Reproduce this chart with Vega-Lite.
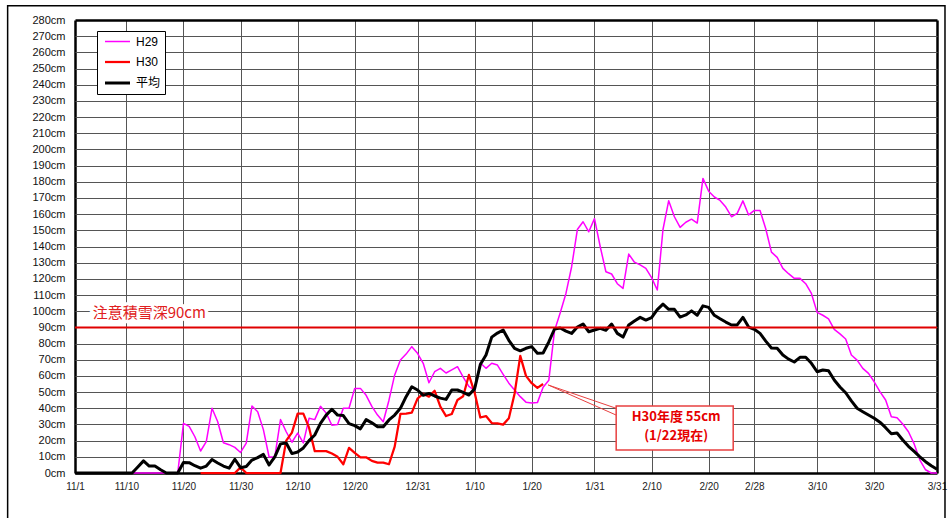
{
  "$schema": "https://vega.github.io/schema/vega-lite/v6.json",
  "width": 862,
  "height": 453,
  "autosize": "none",
  "padding": {"left": 75, "top": 20, "right": 13, "bottom": 45},
  "background": "white",
  "config": {
    "view": {"stroke": null},
    "font": "Liberation Sans",
    "axis": {"domain": false, "ticks": false, "title": null, "labelOverlap": false}
  },
  "layer": [
    {
      "data": {"values": [
        {"i":0,"H29":0,"平均":0},{"i":1,"H29":0,"平均":0},{"i":2,"H29":0,"平均":0},{"i":3,"H29":0,"平均":0},{"i":4,"H29":0,"平均":0},
        {"i":5,"H29":0,"平均":0},{"i":6,"H29":0,"平均":0},{"i":7,"H29":0,"平均":0},{"i":8,"H29":0,"平均":0},{"i":9,"H29":0,"平均":0},
        {"i":10,"H29":0,"平均":0},{"i":11,"H29":0,"平均":3.7},{"i":12,"H29":0,"平均":7.5},{"i":13,"H29":0,"平均":4.3},{"i":14,"H29":0,"平均":4.3},
        {"i":15,"H29":0,"平均":2},{"i":16,"H29":0,"平均":0},{"i":17,"H29":0,"平均":0},{"i":18,"H29":0,"平均":0},{"i":19,"H29":30.7,"平均":6.5},
        {"i":20,"H29":28.8,"平均":6.4},{"i":21,"H29":22.4,"平均":4.5},{"i":22,"H29":13.6,"H30":0,"平均":3},{"i":23,"H29":19.4,"H30":0,"平均":4.3},{"i":24,"H29":40,"H30":0,"平均":8.3},
        {"i":25,"H29":31.7,"H30":0,"平均":6.2},{"i":26,"H29":18.7,"H30":0,"平均":4.3},{"i":27,"H29":17.5,"H30":0,"平均":3},{"i":28,"H29":15.8,"H30":0,"平均":8.5},{"i":29,"H29":12.7,"H30":3.5,"平均":3.3},
        {"i":30,"H29":18.5,"H30":0,"平均":4},{"i":31,"H29":41.4,"H30":0,"平均":8},{"i":32,"H29":37.9,"H30":0,"平均":9.5},{"i":33,"H29":26.8,"H30":0,"平均":11.5},{"i":34,"H29":9.9,"H30":0,"平均":5},
        {"i":35,"H29":9.9,"H30":0,"平均":10},{"i":36,"H29":33,"H30":0,"平均":18},{"i":37,"H29":25.5,"H30":20,"平均":18.5},{"i":38,"H29":19,"H30":25,"平均":12},{"i":39,"H29":24.7,"H30":36.7,"平均":13},
        {"i":40,"H29":18.6,"H30":36.7,"平均":15.5},{"i":41,"H29":33.8,"H30":28,"平均":20},{"i":42,"H29":33,"H30":13.5,"平均":23.5},{"i":43,"H29":41.2,"H30":13.5,"平均":30.7},{"i":44,"H29":37,"H30":13.5,"平均":35.8},
        {"i":45,"H29":29.5,"H30":12,"平均":39.4},{"i":46,"H29":30,"H30":10,"平均":35.8},{"i":47,"H29":40,"H30":5.4,"平均":35.5},{"i":48,"H29":40,"H30":15.5,"平均":30.5},{"i":49,"H29":52.3,"H30":12.4,"平均":29.3},
        {"i":50,"H29":52.3,"H30":9.7,"平均":27.3},{"i":51,"H29":48,"H30":9.7,"平均":33},{"i":52,"H29":41.2,"H30":7.5,"平均":31},{"i":53,"H29":35.8,"H30":6.4,"平均":28.6},{"i":54,"H29":31.7,"H30":6.4,"平均":28.6},
        {"i":55,"H29":45,"H30":5.4,"平均":32.8},{"i":56,"H29":60.6,"H30":16.3,"平均":35.8},{"i":57,"H29":69.8,"H30":36.5,"平均":40},{"i":58,"H29":73.5,"H30":36.7,"平均":47.2},{"i":59,"H29":78.1,"H30":37.3,"平均":53.3},
        {"i":60,"H29":74,"H30":46,"平均":51.3},{"i":61,"H29":67.8,"H30":49,"平均":48},{"i":62,"H29":55.8,"H30":47.2,"平均":49.2},{"i":63,"H29":62.6,"H30":50.8,"平均":47.6},{"i":64,"H29":64.7,"H30":41,"平均":46.3},
        {"i":65,"H29":61.8,"H30":35.2,"平均":45.5},{"i":66,"H29":63.7,"H30":36.5,"平均":51.3},{"i":67,"H29":65.7,"H30":45.1,"平均":51.3},{"i":68,"H29":59.3,"H30":47.4,"平均":49.8},{"i":69,"H29":53.5,"H30":60.6,"平均":48.2},
        {"i":70,"H29":51,"H30":49.7,"平均":52},{"i":71,"H29":68,"H30":34.3,"平均":67},{"i":72,"H29":64.7,"H30":35.2,"平均":72.9},{"i":73,"H29":67.8,"H30":30.9,"平均":84},{"i":74,"H29":66.7,"H30":30.7,"平均":86.5},
        {"i":75,"H29":61,"H30":29.9,"平均":88.4},{"i":76,"H29":55.5,"H30":33.8,"平均":82},{"i":77,"H29":51.3,"H30":49,"平均":77},{"i":78,"H29":47.2,"H30":72.4,"平均":75.5},{"i":79,"H29":43.8,"H30":60,"平均":77.1},
        {"i":80,"H29":43.3,"H30":55.5,"平均":78.1},{"i":81,"H29":43.5,"H30":52.6,"平均":74},{"i":82,"H29":53,"H30":55,"平均":74.2},{"i":83,"H29":57.3,"平均":81},{"i":84,"H29":88,"平均":89},
        {"i":85,"H29":99,"平均":89.6},{"i":86,"H29":111,"平均":87.7},{"i":87,"H29":127.5,"平均":86.3},{"i":88,"H29":150.5,"平均":90.2},{"i":89,"H29":155.3,"平均":92.1},
        {"i":90,"H29":149.1,"平均":87.3},{"i":91,"H29":157.2,"平均":88.4},{"i":92,"H29":140,"平均":89.4},{"i":93,"H29":124.4,"平均":88.2},{"i":94,"H29":123,"平均":92.1},
        {"i":95,"H29":117,"平均":86.3},{"i":96,"H29":114.1,"平均":84},{"i":97,"H29":135.3,"平均":91.5},{"i":98,"H29":130.3,"平均":94},{"i":99,"H29":128.6,"平均":96.2},
        {"i":100,"H29":126.5,"平均":94.5},{"i":101,"H29":120.8,"平均":96},{"i":102,"H29":113.1,"平均":101},{"i":103,"H29":150.5,"平均":104.4},{"i":104,"H29":168.3,"平均":101.2},
        {"i":105,"H29":158.4,"平均":101.2},{"i":106,"H29":151.8,"平均":96.4},{"i":107,"H29":155,"平均":97.7},{"i":108,"H29":156.9,"平均":100.2},{"i":109,"H29":154.5,"平均":97.5},
        {"i":110,"H29":182.1,"平均":103.3},{"i":111,"H29":174.2,"平均":102.4},{"i":112,"H29":170.6,"平均":97.5},{"i":113,"H29":168.5,"平均":95.3},{"i":114,"H29":164.4,"平均":93.3},
        {"i":115,"H29":158.4,"平均":91.5},{"i":116,"H29":160.5,"平均":91.5},{"i":117,"H29":168.2,"平均":96.2},{"i":118,"H29":159.5,"平均":90.2},{"i":119,"H29":162.3,"平均":88.8},
        {"i":120,"H29":162.3,"平均":86.3},{"i":121,"H29":151,"平均":81.5},{"i":122,"H29":136.5,"平均":77.3},{"i":123,"H29":133.3,"平均":77.1},{"i":124,"H29":126.5,"平均":72.9},
        {"i":125,"H29":123.2,"平均":70.4},{"i":126,"H29":120.3,"平均":68.6},{"i":127,"H29":120.3,"平均":71.5},{"i":128,"H29":117,"平均":71.5},{"i":129,"H29":111,"平均":67.8},
        {"i":130,"H29":99.3,"平均":62.6},{"i":131,"H29":97.5,"平均":63.7},{"i":132,"H29":95.3,"平均":63.2},{"i":133,"H29":88.8,"平均":57.5},{"i":134,"H29":86,"平均":53.2},
        {"i":135,"H29":82.8,"平均":49.6},{"i":136,"H29":72.9,"平均":44.6},{"i":137,"H29":69.8,"平均":40},{"i":138,"H29":64.7,"平均":37.9},{"i":139,"H29":61.6,"平均":35.8},
        {"i":140,"H29":56.4,"平均":33.8},{"i":141,"H29":50.3,"平均":31.4},{"i":142,"H29":45.1,"平均":28},{"i":143,"H29":34.8,"平均":24.3},{"i":144,"H29":34.2,"平均":24.7},
        {"i":145,"H29":30.3,"平均":20.4},{"i":146,"H29":25.5,"平均":16.5},{"i":147,"H29":18,"平均":13.3},{"i":148,"H29":8,"平均":10},{"i":149,"H29":2,"平均":7},
        {"i":150,"H29":0,"平均":4.5},{"i":151,"H29":0,"平均":2.3}
      ]},
      "transform": [
        {"fold": ["H29", "H30", "平均"], "as": ["series", "cm"]},
        {"filter": "isValid(datum.cm)"}
      ],
      "encoding": {
        "x": {
          "field": "i", "type": "quantitative",
          "scale": {"domain": [0, 151], "nice": false, "zero": false},
          "axis": {
            "values": [0, 9, 19, 29, 39, 49, 60, 70, 80, 91, 101, 111, 119, 130, 140, 151],
            "tickCount": 40,
            "labelExpr": "['11/1','11/10','11/20','11/30','12/10','12/20','12/31','1/10','1/20','1/31','2/10','2/20','2/28','3/10','3/20','3/31'][indexof([0,9,19,29,39,49,60,70,80,91,101,111,119,130,140,151], datum.value)]",
            "labelFontSize": 10, "labelColor": "#222", "labelPadding": 8,
            "gridColor": {"condition": {"test": "datum.value === 0 || datum.value === 151", "value": "#000"}, "value": "#555"},
            "gridWidth": {"condition": {"test": "datum.value === 0 || datum.value === 151", "value": 2.5}, "value": 1},
            "labelFlush": false
          }
        },
        "y": {
          "field": "cm", "type": "quantitative",
          "scale": {"domain": [0, 280], "nice": false},
          "axis": {
            "values": [0,10,20,30,40,50,60,70,80,90,100,110,120,130,140,150,160,170,180,190,200,210,220,230,240,250,260,270,280],
            "tickCount": 40,
            "labelExpr": "datum.value + 'cm'",
            "labelFontSize": 11, "labelColor": "#111", "labelPadding": 10,
            "gridColor": {"condition": {"test": "datum.value === 0 || datum.value === 280", "value": "#000"}, "value": "#555"},
            "gridWidth": {"condition": {"test": "datum.value === 0 || datum.value === 280", "value": 2.5}, "value": 1}
          }
        },
        "color": {
          "field": "series", "type": "nominal",
          "scale": {"domain": ["H29", "H30", "平均"], "range": ["#ff00ff", "#ff0000", "#000000"]},
          "legend": {
            "orient": "none", "legendX": 22, "legendY": 11, "title": null,
            "strokeColor": "#000", "fillColor": "#fff", "padding": 4.5,
            "symbolType": "M-2.5,0H2.5", "symbolSize": 100, "symbolOffset": 9.5, "rowPadding": 8,
            "labelFontSize": 12, "labelFont": "Liberation Sans, Noto Sans CJK JP", "labelColor": "#000", "labelOffset": 12
          }
        },
        "strokeWidth": {
          "field": "series", "type": "nominal",
          "scale": {"domain": ["H29", "H30", "平均"], "range": [1.5, 3, 3]}
        }
      },
      "layer": [
        {"transform": [{"filter": "datum.series === 'H29'"}], "mark": {"type": "line", "strokeJoin": "round"}},
        {"transform": [{"filter": "datum.series === 'H30'"}], "mark": {"type": "line", "strokeJoin": "round"}},
        {"transform": [{"filter": "datum.series === '平均'"}], "mark": {"type": "line", "strokeJoin": "round"}}
      ]
    },
    {
      "data": {"values": [{}]},
      "layer": [
        {
          "mark": {"type": "rect", "fill": null, "fillOpacity": 0, "stroke": "#000", "strokeWidth": 1.5},
          "encoding": {
            "x": {"datum": -11.8, "type": "quantitative"}, "x2": {"datum": 152.4},
            "y": {"datum": 288.8, "type": "quantitative"}, "y2": {"datum": -40}
          }
        },
        {
          "mark": {"type": "rule", "color": "#e00000", "strokeWidth": 2},
          "encoding": {"y": {"datum": 90, "type": "quantitative"}}
        },
        {
          "mark": {"type": "text", "text": "注意積雪深90cm", "font": "Noto Sans CJK JP", "fontSize": 15, "align": "left", "baseline": "middle", "fill": "white", "stroke": "white", "strokeWidth": 7, "strokeJoin": "round"},
          "encoding": {"x": {"datum": 3.1, "type": "quantitative"}, "y": {"datum": 99, "type": "quantitative"}}
        },
        {
          "mark": {"type": "text", "text": "注意積雪深90cm", "font": "Noto Sans CJK JP", "fontSize": 15, "align": "left", "baseline": "middle", "color": "#e02020"},
          "encoding": {"x": {"datum": 3.1, "type": "quantitative"}, "y": {"datum": 99, "type": "quantitative"}}
        },
        {
          "mark": {"type": "rule", "color": "#e84040", "strokeWidth": 1},
          "encoding": {"x": {"datum": 82.9, "type": "quantitative"}, "y": {"datum": 54.4, "type": "quantitative"}, "x2": {"datum": 94.8}, "y2": {"datum": 40}}
        },
        {
          "mark": {"type": "rule", "color": "#e84040", "strokeWidth": 1},
          "encoding": {"x": {"datum": 82.9, "type": "quantitative"}, "y": {"datum": 54.4, "type": "quantitative"}, "x2": {"datum": 94.8}, "y2": {"datum": 35.8}}
        },
        {
          "mark": {"type": "rect", "fill": "white", "stroke": "#e84040", "strokeWidth": 1.5},
          "encoding": {"x": {"datum": 94.8, "type": "quantitative"}, "x2": {"datum": 115.3}, "y": {"datum": 41.4, "type": "quantitative"}, "y2": {"datum": 14.2}}
        },
        {
          "mark": {"type": "text", "text": "H30年度  55cm", "font": "Noto Sans CJK JP", "fontSize": 13, "fontWeight": "bold", "align": "center", "baseline": "middle", "color": "#e60000"},
          "encoding": {"x": {"datum": 105.3, "type": "quantitative"}, "y": {"datum": 34.6, "type": "quantitative"}}
        },
        {
          "mark": {"type": "text", "text": "(1/22現在)", "font": "Noto Sans CJK JP", "fontSize": 13, "fontWeight": "bold", "align": "center", "baseline": "middle", "color": "#e60000"},
          "encoding": {"x": {"datum": 105.3, "type": "quantitative"}, "y": {"datum": 22.9, "type": "quantitative"}}
        }
      ]
    }
  ]
}
